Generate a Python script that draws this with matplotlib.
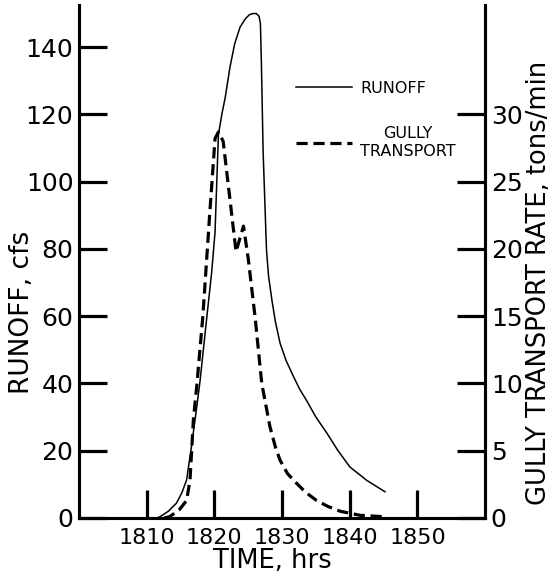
import numpy as np
import matplotlib.pyplot as plt

plt.rcParams['font.family'] = ['DejaVu Sans']

# runoff hydrograph (cfs)
runoff_t = [1811.5, 1812.0, 1813.2, 1814.4, 1815.2, 1815.9, 1816.6, 1817.4, 1817.9, 1818.9,
            1819.6, 1820.1, 1820.6, 1821.1, 1821.6, 1822.3, 1823.0, 1823.8, 1824.6, 1825.2,
            1825.7, 1826.2, 1826.6, 1826.8, 1826.95, 1827.2, 1827.7, 1828.0, 1828.5, 1829.0,
            1829.7, 1830.6, 1831.7, 1832.6, 1833.6, 1835.0, 1836.6, 1838.2, 1840.0, 1842.5,
            1845.2]
runoff_q = [0, 0.4, 2.0, 4.4, 7.5, 11.3, 21, 33, 41, 60,
            73, 85, 114, 120, 125, 134, 141, 146, 148.5, 149.7,
            150, 150, 149.2, 147, 135, 109, 79.7, 72, 64.8, 58.5,
            52, 46.8, 42, 38.3, 35, 30, 25.3, 20.2, 15.2, 11.2,
            7.8]

# gully transport rate (tons/min)
gully_t = [1812.6, 1813.4, 1814.8, 1815.9, 1816.4, 1816.6, 1816.9, 1817.4, 1818.3, 1819.3,
           1820.1, 1820.6, 1821.3, 1822.3, 1823.2, 1824.3, 1825.0, 1826.0, 1827.0, 1828.2,
           1829.0, 1829.7, 1830.8, 1832.1, 1833.5, 1835.1, 1836.8, 1838.6, 1841.5, 1844.9]
gully_r = [0, 0.1, 0.6, 1.3, 2.8, 4.6, 7.3, 9.8, 15, 22.5,
           28.2, 28.7, 28.0, 23.7, 19.8, 21.7, 19.3, 15.0, 10.0, 6.8,
           5.3, 4.3, 3.3, 2.6, 1.9, 1.3, 0.85, 0.5, 0.2, 0.1]

xticks = [1810, 1820, 1830, 1840, 1850]
yticks_left = [0, 20, 40, 60, 80, 100, 120, 140]
yticks_right = [0, 5, 10, 15, 20, 25, 30]

fig = plt.figure(figsize=(5.52, 5.73), dpi=100)
ax = fig.add_axes([0.143, 0.096, 0.736, 0.895])
ax2 = ax.twinx()

l1, = ax.plot(runoff_t, runoff_q, color='black', lw=1.1, label='RUNOFF')
l2, = ax2.plot(gully_t, gully_r, color='black', lw=2.3, dashes=(3.5, 1.8),
               label='GULLY\nTRANSPORT')

ax.set_xlim(1800, 1860)
ax.set_ylim(0, 152.5)
ax2.set_ylim(0, 152.5 / 4)

ax.set_xticks(xticks)
ax.set_yticks(yticks_left)
ax2.set_yticks(yticks_right)

for a in (ax, ax2):
    a.spines['top'].set_visible(False)
    for s in a.spines.values():
        s.set_linewidth(2.2)

ax.tick_params(axis='both', direction='in', length=20, width=2.3, labelsize=18, pad=4)
ax.tick_params(axis='x', labelsize=16, pad=7)
ax2.tick_params(axis='y', direction='in', length=20, width=2.3, labelsize=18, pad=4)

ax.set_xlabel('TIME, hrs', fontsize=18.5)
ax.xaxis.set_label_coords(0.475, -0.058)
ax.set_ylabel('RUNOFF, cfs', fontsize=19)
ax.yaxis.set_label_coords(-0.108, 0.40)
ax2.set_ylabel('GULLY TRANSPORT RATE, tons/min', fontsize=18.5)
ax2.yaxis.set_label_coords(1.10, 0.458)

leg = ax.legend(handles=[l1, l2], loc='upper left', bbox_to_anchor=(0.5, 0.88),
                frameon=False, fontsize=11.5, handlelength=3.5, labelspacing=1.9,
                handletextpad=0.5)
for t in leg.get_texts():
    t.set_multialignment('center')

fig.savefig('out.png', dpi=100)
